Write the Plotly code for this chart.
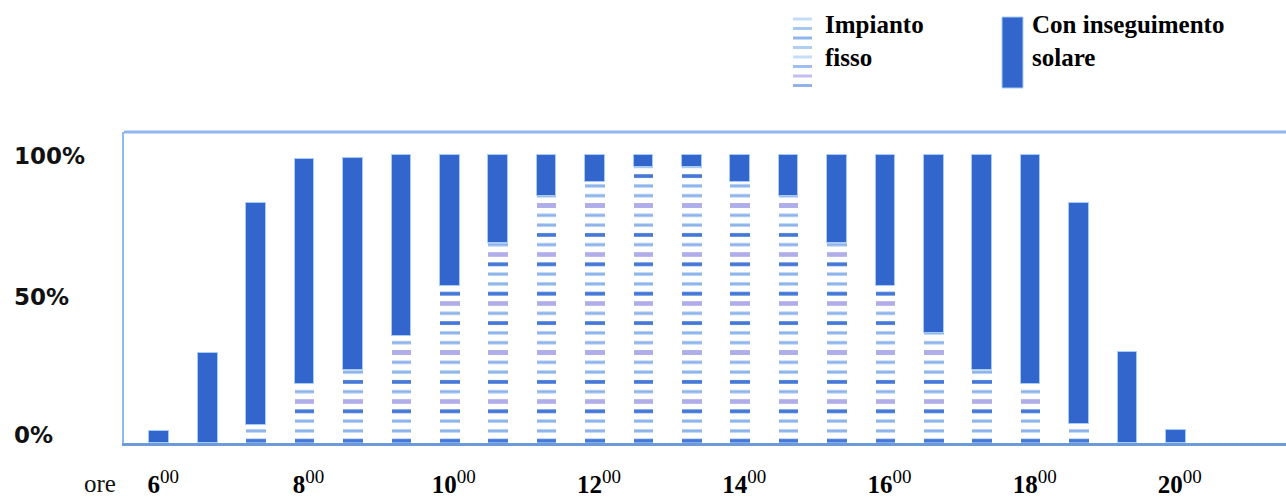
import plotly.graph_objects as go

# Hourly share of peak production: fixed panels vs. panels with sun tracking
times = ["6:00", "6:40", "7:20", "8:00", "8:40", "9:20", "10:00", "10:40",
         "11:20", "12:00", "12:40", "13:20", "14:00", "14:40", "15:20",
         "16:00", "16:40", "17:20", "18:00", "18:40", "19:20", "20:00"]
fixed_pct = [0, 0, 6.2, 20.3, 25.3, 37.1, 54.4, 69.2, 85.6, 90.6, 95.6,
             95.6, 90.6, 85.6, 69.2, 54.4, 38.0, 25.3, 20.3, 6.5, 0, 0]
tracking_pct = [4.2, 31.3, 83.3, 98.4, 98.9, 100, 100, 100, 100, 100, 100,
                100, 100, 100, 100, 100, 100, 100, 99.8, 83.1, 31.4, 4.5]
tick_hours = [6, 8, 10, 12, 14, 16, 18, 20]
y_labels = [(100, "100%"), (50, "50%"), (0, "0%")]
legend_fixed = ["Impianto", "fisso"]
legend_tracking = ["Con inseguimento", "solare"]


def to_hours(t):
    h, m = t.split(":")
    return int(h) + int(m) / 60


x_hours = [to_hours(t) for t in times]
gain_pct = [t - f for t, f in zip(tracking_pct, fixed_pct)]
tick_text = [f"<b>{h}</b><sup><span style='font-size:19px'>00</span></sup>"
             for h in tick_hours]

W, H = 1286, 499
L, R, T, B = 124, 0, 132, 56
PW, PH = W - L - R, H - T - B


def px(xp):
    return (xp - L) / PW


def py(yp):
    return (H - B - yp) / PH


BAR_W = 0.27
SOLID = "#3366cc"
SERIF = "Liberation Serif"

fig = go.Figure()

# striped fill for the fixed installation: layered horizontal hatch patterns
stripe_layers = [
    (9.8, 0.40, "#b8d4f5"),
    (9.8, 0.16, "#84aae8"),
    (29.4, 0.12, "#4577d8"),
    (49.0, 0.09, "#b1acea"),
]
for size, solidity, color in stripe_layers:
    fig.add_trace(go.Bar(
        x=x_hours, y=fixed_pct, width=BAR_W,
        marker=dict(color=color, line=dict(width=0),
                    pattern=dict(shape="-", size=size, solidity=solidity,
                                 fillmode="replace")),
        showlegend=False, hoverinfo="skip",
    ))

# extra yield from sun tracking, stacked above the fixed share
fig.add_trace(go.Bar(
    x=x_hours, y=gain_pct, base=fixed_pct, width=BAR_W,
    marker=dict(color=SOLID, line=dict(color="#a6cdf7", width=1)),
    showlegend=False,
))

shapes = [
    dict(type="line", xref="paper", yref="paper", x0=0, x1=1, y0=1, y1=1,
         line=dict(color="#8fb6ee", width=3)),
]

# legend icon: striped block
icon_cols = ["#c2dcf7", "#a9c8f1", "#8fb5ec", "#b0cdf3", "#c6ddf7",
             "#9fbdee", "#c4bdf4", "#8fb3ea"]
for k, c in enumerate(icon_cols):
    yk = 19 + k * 9.5
    shapes.append(dict(type="line", xref="paper", yref="paper",
                       x0=px(793), x1=px(812), y0=py(yk), y1=py(yk),
                       line=dict(color=c, width=3)))
# legend icon: solid block
shapes.append(dict(type="rect", xref="paper", yref="paper",
                   x0=px(1002), x1=px(1023), y0=py(88), y1=py(17),
                   fillcolor=SOLID, line=dict(color="#a6cdf7", width=1)))

annotations = []
for val, txt in y_labels:
    annotations.append(dict(
        xref="paper", yref="y", x=px(12), y=val, xanchor="left",
        yanchor="middle", yshift=8 if val == 0 else (2 if val == 50 else -1),
        text=txt, showarrow=False,
        font=dict(family="DejaVu Sans", size=23, color="#111111",
                  weight="bold")))
annotations.append(dict(
    xref="paper", yref="paper", x=px(82), y=py(483), xanchor="left",
    yanchor="middle", text="ore", showarrow=False,
    font=dict(family=SERIF, size=25, color="#111111")))
annotations.append(dict(
    xref="paper", yref="paper", x=px(823), y=py(9), xanchor="left",
    yanchor="top", align="left", text="<br>".join(legend_fixed),
    showarrow=False,
    font=dict(family=SERIF, size=25, color="#000000", weight="bold")))
annotations.append(dict(
    xref="paper", yref="paper", x=px(1030), y=py(9), xanchor="left",
    yanchor="top", align="left", text="<br>".join(legend_tracking),
    showarrow=False,
    font=dict(family=SERIF, size=25, color="#000000", weight="bold")))

fig.update_layout(
    width=W, height=H,
    margin=dict(l=L, r=R, t=T, b=B, pad=0, autoexpand=False),
    barmode="overlay",
    bargap=0,
    plot_bgcolor="white", paper_bgcolor="white",
    showlegend=False,
    shapes=shapes,
    annotations=annotations,
    xaxis=dict(range=[5.514, 21.517], tickvals=tick_hours, ticktext=tick_text,
               ticks="", showgrid=False, zeroline=False, automargin=False,
               showline=True, linecolor="#6b9bdb", linewidth=3,
               tickfont=dict(family=SERIF, size=25, color="#000000"),
               ticklabelshift=4, ticklabelstandoff=17),
    yaxis=dict(range=[0, 107.8], showticklabels=False, ticks="",
               showgrid=False, zeroline=False, automargin=False,
               showline=True, linecolor="#8fb8f2", linewidth=2),
)

fig.write_html("out.html")
